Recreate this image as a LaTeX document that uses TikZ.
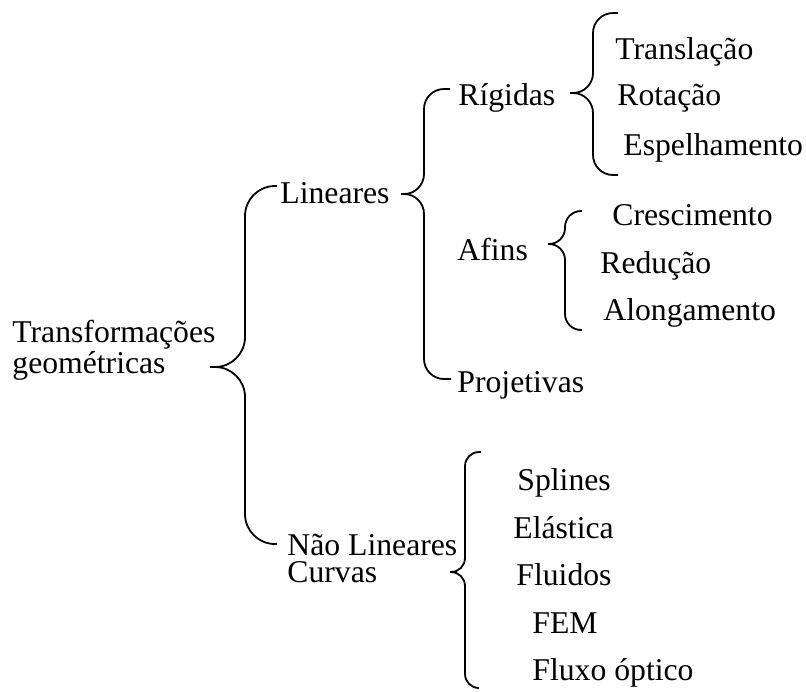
\documentclass[tikz,border=0pt]{standalone}
\usepackage{fontspec}
\setmainfont{Liberation Serif}
\usepackage{tikz}
\usetikzlibrary{calc}
\usetikzlibrary{positioning}

\tikzset{
  txt/.style={anchor=base west, inner sep=0pt, align=left,
    font=\fontsize{15.85}{13.5}\selectfont},
  chave/.style={line width=0.9pt, rounded corners=#1},
}

\begin{document}
\begin{tikzpicture}[x=0.5pt, y=-0.5pt]
    \useasboundingbox (0,0) rectangle (806,691);

    % --- TEXTOS (canto esquerdo da linha de base; 2 linhas -> base da ultima) ---
    \node[txt] (transf) at (12,373) {Transformações\\geométricas};

    \node[txt] (lin) at (280,203) {Lineares};
    \node[txt] (rig) at (458,105) {Rígidas};
    \node[txt] (trans) at (615,59) {Translação};
    \node[txt] (rot) at (617,105) {Rotação};
    \node[txt] (esp) at (623,155) {Espelhamento};

    \node[txt] (afins) at (457,260) {Afins};
    \node[txt] (cresc) at (612,225) {Crescimento};
    \node[txt] (red) at (600,273) {Redução};
    \node[txt] (along) at (603,320) {Alongamento};

    \node[txt] (proj) at (457,392) {Projetivas};

    \node[txt] (naolin) at (287,582) {Não Lineares\\Curvas};
    \node[txt] (spl) at (517,490) {Splines};
    \node[txt] (elast) at (513,538) {Elástica};
    \node[txt] (fluid) at (516,585) {Fluidos};
    \node[txt] (fem) at (532,633) {FEM};
    \node[txt] (fluxo) at (532,680) {Fluxo óptico};

    % --- CHAVES: ponta, vertical e extremidades ---
    % Transformações geométricas
    \coordinate (cT-top) at (277,186);
    \coordinate (cT-v) at (245,367);
    \coordinate (cT-tip) at (210,367);
    \coordinate (cT-bot) at (277,544);
    \draw[chave=15pt] (cT-top) -| (cT-v) -- (cT-tip) (cT-tip) -- (cT-v) |- (cT-bot);

    % Lineares
    \coordinate (cL-top) at (450,89);
    \coordinate (cL-v) at (424,194);
    \coordinate (cL-tip) at (401,194);
    \coordinate (cL-bot) at (451,379);
    \draw[chave=10pt] (cL-top) -| (cL-v) -- (cL-tip) (cL-tip) -- (cL-v) |- (cL-bot);

    % Rígidas
    \coordinate (cR-top) at (618,13);
    \coordinate (cR-v) at (593,93);
    \coordinate (cR-tip) at (570,93);
    \coordinate (cR-bot) at (618,175);
    \draw[chave=10pt] (cR-top) -| (cR-v) -- (cR-tip) (cR-tip) -- (cR-v) |- (cR-bot);

    % Afins
    \coordinate (cA-top) at (582,211);
    \coordinate (cA-v) at (565,244);
    \coordinate (cA-tip) at (548,244);
    \coordinate (cA-bot) at (582,330);
    \draw[chave=8pt] (cA-top) -| (cA-v) -- (cA-tip) (cA-tip) -- (cA-v) |- (cA-bot);

    % Não Lineares
    \coordinate (cN-top) at (481,452);
    \coordinate (cN-v) at (465,572);
    \coordinate (cN-tip) at (450,572);
    \coordinate (cN-bot) at (479,688);
    \draw[chave=7pt] (cN-top) -| (cN-v) -- (cN-tip) (cN-tip) -- (cN-v) |- (cN-bot);

\end{tikzpicture}
\end{document}
